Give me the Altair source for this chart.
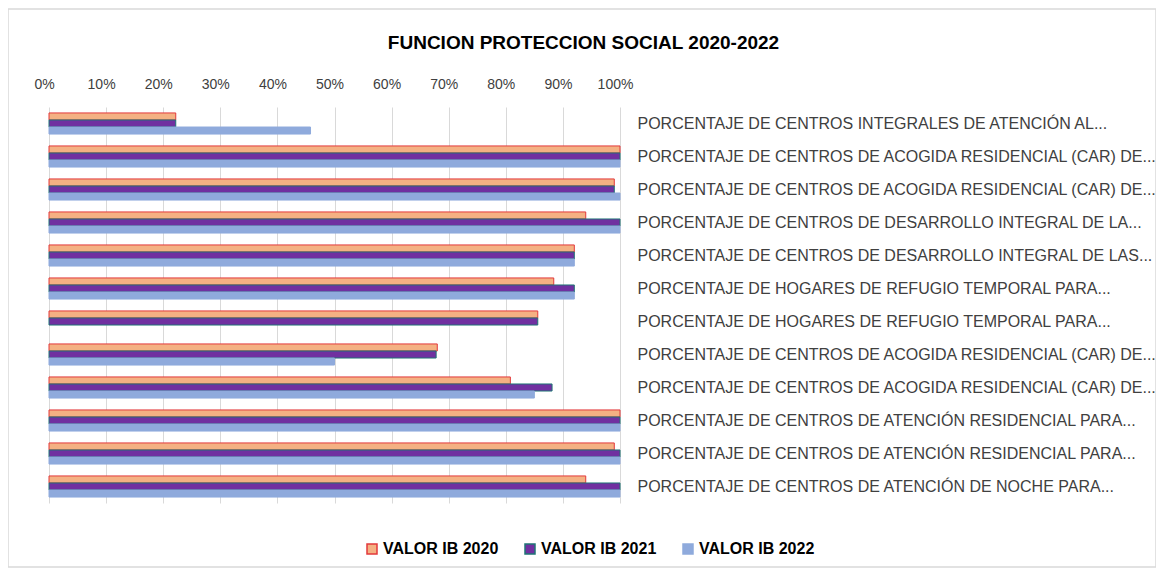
import json
import altair as alt
import pandas as pd

title_text = "FUNCION PROTECCION SOCIAL 2020-2022"

categories = [
    "PORCENTAJE DE CENTROS INTEGRALES DE ATENCIÓN AL...",
    "PORCENTAJE DE CENTROS DE ACOGIDA RESIDENCIAL (CAR) DE...",
    "PORCENTAJE DE CENTROS DE ACOGIDA RESIDENCIAL (CAR) DE...",
    "PORCENTAJE DE CENTROS DE DESARROLLO INTEGRAL DE LA...",
    "PORCENTAJE DE CENTROS DE DESARROLLO INTEGRAL DE LAS...",
    "PORCENTAJE DE HOGARES DE REFUGIO TEMPORAL PARA...",
    "PORCENTAJE DE HOGARES DE REFUGIO TEMPORAL PARA...",
    "PORCENTAJE DE CENTROS DE ACOGIDA RESIDENCIAL (CAR) DE...",
    "PORCENTAJE DE CENTROS DE ACOGIDA RESIDENCIAL (CAR) DE...",
    "PORCENTAJE DE CENTROS DE ATENCIÓN RESIDENCIAL PARA...",
    "PORCENTAJE DE CENTROS DE ATENCIÓN RESIDENCIAL PARA...",
    "PORCENTAJE DE CENTROS DE ATENCIÓN DE NOCHE PARA...",
]

series_names = ["VALOR IB 2020", "VALOR IB 2021", "VALOR IB 2022"]

v2020 = [0.222, 1.00, 0.99, 0.94, 0.92, 0.884, 0.856, 0.68, 0.808, 1.00, 0.99, 0.94]
v2021 = [0.222, 1.00, 0.99, 1.00, 0.92, 0.92, 0.856, 0.678, 0.881, 1.00, 1.00, 1.00]
v2022 = [0.458, 1.00, 1.00, 1.00, 0.92, 0.92, None, 0.50, 0.85, 1.00, 1.00, 1.00]

tick_values = [0, 0.1, 0.2, 0.3, 0.4, 0.5, 0.6, 0.7, 0.8, 0.9, 1.0]

fill_colors = ["#F4B183", "#7030A0", "#8FAADC"]
stroke_colors = ["#E2393B", "#1F7475", "#8FAADC"]

rows = []
for i, cat in enumerate(categories):
    for s, vals in zip(series_names, [v2020, v2021, v2022]):
        rows.append({"idx": i, "series": s, "value": vals[i]})
df = pd.DataFrame(rows)
df = df[df["value"].notna()]

FONT = "Liberation Sans, Arial, sans-serif"

label_expr = json.dumps(categories, ensure_ascii=False) + "[datum.value]"

legend_spec = alt.Legend(
    title=None,
    orient="none",
    legendX=315,
    legendY=434,
    direction="horizontal",
    symbolType="square",
    symbolSize=100,
    symbolStrokeWidth=1.5,
    labelFont=FONT,
    labelFontSize=16,
    labelFontWeight="bold",
    labelColor="#000000",
    columnPadding=23,
    labelOffset=3,
)

bars = alt.Chart(df).mark_bar(strokeWidth=1).encode(
    x=alt.X(
        "value:Q",
        scale=alt.Scale(domain=[0, 1]),
        axis=alt.Axis(
            orient="top",
            values=tick_values,
            format=".0%",
            title=None,
            domain=False,
            ticks=False,
            grid=True,
            gridColor="#D9D9D9",
            gridWidth=1,
            labelFont=FONT,
            labelFontSize=14,
            labelColor="#404040",
            labelPadding=16,
            labelFlush=False,
            labelOffset=-5,
        ),
    ),
    y=alt.Y(
        "idx:O",
        scale=alt.Scale(paddingInner=0.36, paddingOuter=0.18),
        axis=alt.Axis(
            orient="right",
            title=None,
            domain=False,
            ticks=False,
            labelExpr=label_expr,
            labelAlign="left",
            labelPadding=17,
            labelLimit=600,
            labelFont=FONT,
            labelFontSize=16,
            labelColor="#404040",
        ),
    ),
    yOffset=alt.YOffset(
        "series:N",
        scale=alt.Scale(domain=series_names, paddingInner=0, paddingOuter=0),
    ),
    color=alt.Color(
        "series:N",
        scale=alt.Scale(domain=series_names, range=fill_colors),
        legend=legend_spec,
    ),
    stroke=alt.Stroke(
        "series:N",
        scale=alt.Scale(domain=series_names, range=stroke_colors),
        legend=legend_spec,
    ),
)

frame = alt.Chart(alt.Data(values=[{"k": 1}])).mark_rect(
    fill=None, stroke="#D9D9D9", strokeWidth=1.5
).encode(
    x=alt.value(-41),
    x2=alt.value(1107),
    y=alt.value(-98),
    y2=alt.value(460),
)

chart = alt.layer(frame, bars).properties(
    width=571,
    height=396,
    padding={"left": 41, "top": 99, "right": 536, "bottom": 66},
    autosize=alt.AutoSizeParams(type="none"),
    title=alt.TitleParams(
        text=title_text,
        anchor="middle",
        frame="group",
        dx=249,
        dy=69,
        offset=24,
        font=FONT,
        fontSize=19,
        fontWeight="bold",
        color="#000000",
    ),
).configure_view(stroke=None)

chart.save("out.html", embed_options={"renderer": "svg", "actions": False})
